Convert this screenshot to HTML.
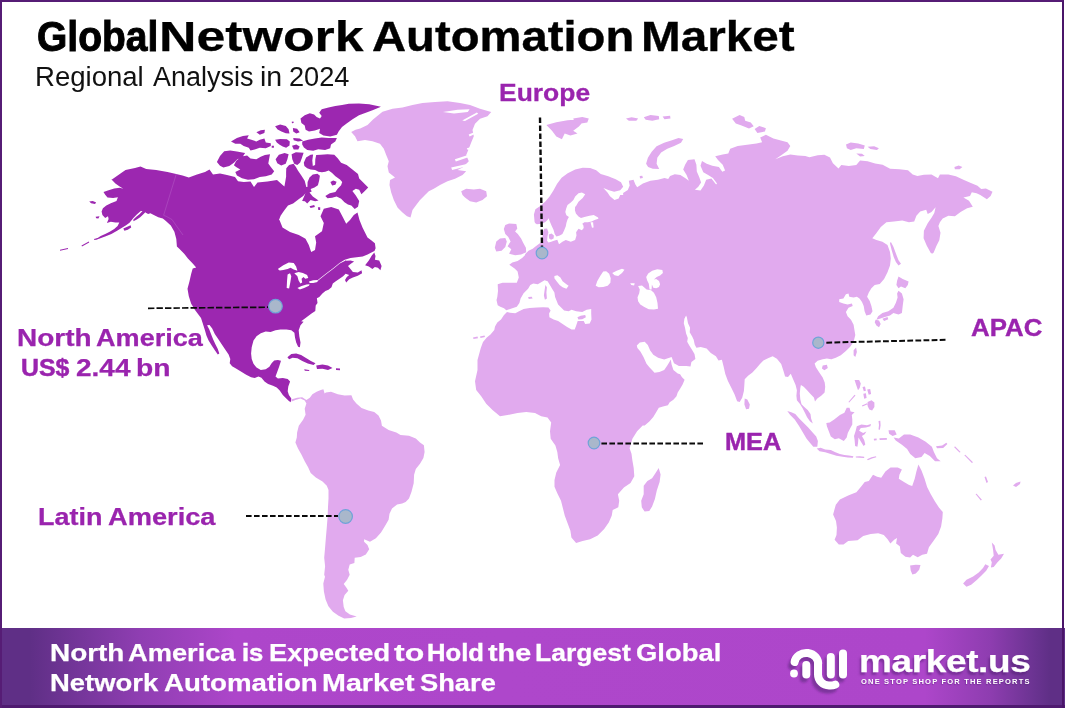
<!DOCTYPE html>
<html><head><meta charset="utf-8">
<style>
html,body{margin:0;padding:0;}
body{width:1065px;height:708px;position:relative;overflow:hidden;background:#fff;font-family:"Liberation Sans",sans-serif;}
.frame{position:absolute;left:0;top:0;width:1064px;height:708px;box-sizing:border-box;border-left:2px solid #561c75;border-top:2px solid #561c75;border-right:2px solid #4a1569;}
.t{position:absolute;white-space:nowrap;line-height:1;transform-origin:0 0;}
.footer{position:absolute;left:0;top:628px;width:1065px;height:80px;background:linear-gradient(90deg,#5f2f86 0px,#5f2f86 30px,#8f3eb2 140px,#ad46ca 235px,#ae47cb 500px,#ad46ca 925px,#8e3db0 990px,#6a3391 1035px,#5f2f86 1050px,#5f2f86 1065px);border-bottom:3px solid #4f1a70;box-sizing:border-box;}
svg{position:absolute;left:0;top:0;}
</style></head><body>
<svg width="1065" height="708" viewBox="0 0 1065 708" shape-rendering="geometricPrecision">
<path fill="#9c27b0" d="M111.2 180.0 L115.5 177.0 L121.2 173.0 L125.5 170.0 L135.0 168.0 L140.5 166.5 L146.2 169.0 L156.2 170.0 L167.5 172.0 L176.2 174.0 L182.5 175.5 L188.8 177.5 L197.0 174.5 L205.0 172.0 L209.5 169.5 L213.0 174.5 L220.0 173.5 L227.0 175.0 L235.0 177.0 L238.0 181.2 L243.8 182.0 L250.5 181.5 L254.0 187.0 L257.5 182.5 L267.5 181.5 L277.0 180.0 L283.2 185.5 L284.4 186.4 L285.2 181.9 L286.1 176.8 L286.1 172.3 L286.3 168.3 L289.1 164.9 L293.6 163.8 L295.9 167.0 L297.9 170.6 L301.0 175.1 L304.7 180.8 L306.3 187.0 L307.4 187.0 L307.6 181.9 L309.5 177.4 L312.8 174.6 L317.4 173.8 L319.9 175.7 L319.1 180.8 L317.9 185.3 L314.5 187.5 L310.6 188.9 L311.7 191.5 L309.5 192.6 L305.5 193.2 L303.2 196.0 L299.3 198.8 L293.1 203.4 L288.0 205.6 L284.0 210.7 L280.6 215.8 L278.9 220.3 L279.5 220.0 L282.5 227.5 L290.0 232.0 L298.8 235.0 L305.5 238.8 L308.8 245.0 L311.2 252.0 L315.0 250.0 L316.2 242.5 L315.0 236.2 L322.0 231.2 L323.8 223.0 L320.5 216.2 L323.8 208.8 L331.2 207.0 L338.8 209.5 L343.0 217.5 L346.2 223.8 L350.0 220.0 L353.8 215.0 L357.5 212.5 L359.5 220.0 L362.5 227.5 L367.5 237.5 L371.2 240.3 L374.9 243.3 L375.6 248.2 L374.5 250.9 L372.4 252.1 L367.6 254.5 L362.7 256.5 L356.6 257.2 L350.5 258.0 L345.6 259.4 L346.2 260.8 L350.5 260.4 L354.1 261.6 L350.5 264.1 L348.0 265.9 L350.5 269.0 L352.9 272.0 L357.8 272.6 L361.5 270.2 L362.1 273.2 L357.8 275.7 L352.9 277.5 L349.2 279.3 L346.2 282.4 L345.0 279.9 L346.8 276.9 L349.2 275.1 L345.6 273.8 L343.1 276.3 L339.5 278.7 L335.8 281.2 L332.8 283.6 L331.5 287.3 L328.5 289.7 L325.4 290.9 L322.4 293.4 L319.3 297.0 L316.9 298.3 L317.5 303.1 L315.7 305.6 L315.3 311.1 L311.2 313.8 L306.2 317.5 L301.2 321.2 L303.6 321.7 L300.5 325.3 L298.7 330.2 L299.3 336.3 L300.5 342.4 L299.9 347.3 L298.1 346.7 L296.2 342.4 L295.0 337.5 L294.4 332.7 L291.3 330.2 L286.5 329.6 L280.4 329.6 L275.5 330.2 L270.6 332.0 L265.7 331.4 L260.8 333.3 L256.5 336.3 L253.5 340.6 L251.7 347.3 L251.1 353.4 L251.7 358.9 L253.5 363.8 L256.5 367.5 L260.8 369.9 L265.7 369.3 L269.4 366.8 L271.6 363.2 L274.2 360.5 L277.9 360.1 L281.0 360.7 L279.1 366.8 L277.3 371.7 L275.5 376.6 L277.9 378.4 L282.8 378.1 L287.7 379.1 L290.1 381.5 L288.3 386.4 L287.7 391.3 L288.9 394.9 L291.3 398.6 L290.7 402.2 L288.9 401.0 L285.8 398.0 L282.8 394.9 L279.7 390.6 L276.7 387.6 L273.0 385.8 L268.1 383.9 L264.5 381.5 L261.4 377.8 L258.4 376.6 L254.7 378.1 L251.1 377.2 L246.2 374.8 L241.3 371.7 L236.4 368.7 L232.1 366.2 L229.7 363.2 L230.3 358.9 L228.6 354.4 L225.2 349.5 L221.5 344.0 L218.2 339.1 L214.8 333.9 L212.2 328.4 L209.5 325.1 L207.1 325.3 L209.3 329.6 L211.0 333.9 L213.2 339.4 L215.4 344.3 L217.8 349.1 L219.3 353.4 L217.8 354.4 L215.0 350.4 L211.7 345.5 L208.6 340.6 L206.5 335.7 L204.7 329.6 L202.8 323.5 L201.0 318.0 L195.0 310.0 L191.2 303.8 L188.8 296.2 L187.5 288.8 L189.5 281.2 L191.2 273.8 L192.7 268.4 L196.2 267.5 L192.7 263.5 L187.9 258.6 L184.2 253.7 L179.3 248.8 L176.9 246.4 L176.3 239.1 L174.4 231.7 L170.8 225.6 L165.6 220.7 L162.8 218.4 L158.3 217.3 L153.8 215.0 L150.4 213.3 L148.1 213.9 L145.9 212.8 L145.3 212.2 L143.6 213.9 L140.2 217.3 L136.8 219.5 L133.4 221.2 L133.4 219.5 L136.3 216.7 L139.7 213.9 L142.5 211.1 L140.8 211.1 L136.8 214.5 L133.4 217.9 L129.5 222.7 L126.1 225.2 L121.6 228.0 L117.1 230.8 L111.4 234.0 L105.8 236.3 L99.0 238.8 L94.5 240.1 L98.4 237.4 L100.7 235.9 L105.2 234.0 L109.7 231.8 L114.2 228.9 L117.6 226.1 L119.3 222.4 L115.4 222.4 L110.8 221.8 L106.9 222.9 L108.6 219.0 L108.0 216.2 L105.2 217.9 L102.4 215.0 L101.6 211.6 L102.9 208.2 L106.3 205.4 L110.8 203.2 L116.5 200.9 L117.9 197.2 L113.1 198.1 L107.5 197.5 L105.2 194.7 L103.5 191.9 L108.6 190.2 L114.2 188.5 L119.9 187.7 L123.3 188.8 L119.3 186.2 L115.4 183.4 L112.0 180.0Z M381.0 106.8 L369.2 104.2 L359.0 103.4 L348.8 103.7 L342.0 105.1 L335.3 105.9 L328.5 107.6 L321.7 109.3 L319.2 112.7 L321.7 116.1 L320.0 118.6 L316.6 116.9 L314.1 114.4 L309.8 113.2 L304.7 115.3 L300.5 118.6 L301.4 122.9 L304.7 125.4 L305.6 129.7 L309.0 131.4 L314.9 130.5 L320.0 128.8 L319.2 133.1 L323.4 135.6 L330.2 136.4 L336.9 134.7 L338.6 131.4 L342.0 127.1 L346.3 123.7 L352.2 119.5 L359.0 115.3 L365.8 112.7 L372.5 110.2Z M275.1 126.3 L280.2 124.6 L285.8 125.9 L288.6 129.2 L289.5 133.6 L285.8 133.2 L281.4 131.5 L277.6 129.5Z M292.9 128.0 L297.1 128.8 L299.7 132.2 L296.3 133.6 L293.2 131.4Z M256.4 132.2 L260.7 130.2 L264.9 129.7 L264.4 133.1 L259.8 134.7Z M291.7 121.7 L293.4 121.4 L293.7 122.9 L292.0 123.2Z M231.0 141.5 L236.9 138.1 L242.9 135.9 L248.8 135.3 L247.1 138.6 L251.4 139.8 L256.4 141.5 L259.8 139.8 L264.4 138.6 L265.8 142.4 L270.8 143.2 L270.8 146.1 L265.8 148.3 L259.8 147.8 L254.7 149.5 L250.5 150.5 L248.8 147.8 L243.7 146.1 L240.3 143.7 L235.3 143.7Z M275.1 139.8 L280.2 139.0 L286.9 139.3 L289.8 141.5 L289.5 145.4 L286.1 147.8 L282.7 146.6 L279.3 144.4 L276.8 142.4Z M271.7 145.8 L273.9 145.8 L273.9 147.8 L271.7 147.8Z M293.2 138.1 L299.7 138.6 L303.1 140.7 L298.0 141.5 L293.7 140.3Z M292.0 145.8 L296.3 144.4 L299.7 146.6 L298.3 149.5 L293.7 149.5Z M302.2 141.5 L308.1 139.8 L314.9 138.6 L321.7 137.6 L328.5 138.1 L336.9 138.1 L335.3 141.5 L331.0 144.4 L330.2 148.3 L325.1 150.0 L318.3 149.2 L313.2 150.8 L307.3 150.0 L303.9 147.5 L302.2 144.4Z M216.9 162.0 L220.0 155.9 L224.2 151.2 L230.2 150.5 L236.9 151.4 L245.1 152.9 L242.4 157.3 L237.3 159.3 L233.9 162.7 L229.3 166.1 L223.4 167.5 L220.0 165.8Z M233.9 165.3 L236.1 161.0 L239.0 158.5 L242.9 156.3 L247.1 155.6 L250.5 158.5 L256.4 159.3 L260.7 156.8 L264.9 155.1 L270.0 154.2 L269.2 158.5 L268.3 163.6 L270.8 166.9 L274.2 171.2 L271.7 174.6 L265.8 176.3 L259.8 177.1 L253.9 179.3 L248.0 179.7 L242.0 178.3 L236.9 175.4 L235.3 172.0 L240.3 169.5 L236.1 166.9Z M275.6 159.3 L278.9 154.8 L284.6 153.1 L288.6 154.2 L287.4 159.3 L285.7 163.8 L281.2 165.5 L277.3 163.3Z M291.6 154.2 L295.9 152.3 L303.6 152.7 L301.8 158.2 L300.2 162.5 L297.3 164.9 L294.2 163.8 L292.3 159.3Z M303.8 162.7 L306.1 157.6 L310.6 154.8 L313.1 154.6 L312.3 160.4 L312.8 166.1 L315.1 164.9 L315.3 159.3 L316.2 155.0 L320.8 154.8 L327.5 154.2 L334.3 154.8 L337.7 158.2 L341.1 162.7 L346.7 164.9 L352.4 169.5 L358.0 174.0 L359.2 178.5 L363.7 183.0 L368.2 187.5 L364.8 190.9 L361.4 194.3 L359.2 189.8 L355.8 188.7 L352.4 190.9 L355.8 195.5 L359.2 201.1 L358.0 206.8 L354.7 209.0 L351.3 205.6 L347.9 204.5 L344.5 202.2 L341.1 198.8 L336.6 196.6 L332.1 197.7 L327.5 198.3 L325.3 196.0 L329.8 193.2 L335.4 192.1 L337.7 188.7 L341.1 185.3 L342.2 181.9 L340.0 179.6 L335.4 176.2 L332.1 172.9 L328.7 170.6 L325.3 171.7 L321.9 172.3 L318.5 171.7 L315.1 170.0 L310.6 169.5 L307.2 168.3 L304.4 166.1Z M330.4 181.9 L333.2 180.5 L336.6 181.7 L335.4 184.7 L332.1 185.5Z M302.1 201.1 L305.5 193.2 L309.5 192.6 L312.8 196.6 L318.5 200.5 L315.1 201.3 L310.6 200.0 L307.2 203.4 L304.9 201.3Z M309.5 206.2 L314.2 205.1 L314.9 207.0 L310.6 208.1Z M317.9 207.3 L320.2 207.3 L320.2 210.1 L318.3 210.1Z"/>
<path fill="#ffffff" d="M277.8 269.0 L283.3 265.3 L288.8 262.6 L293.7 263.1 L296.1 266.5 L297.4 270.8 L293.7 269.6 L290.6 267.7 L287.6 269.0 L283.3 269.9 L279.7 270.4Z M287.6 274.5 L290.0 273.2 L291.3 276.3 L290.3 282.4 L289.1 288.5 L286.7 287.9 L287.0 281.2Z M294.3 273.2 L298.6 272.0 L302.9 272.9 L307.1 275.1 L308.3 278.1 L305.3 278.7 L303.5 276.9 L301.6 278.7 L302.2 282.4 L300.4 283.6 L298.6 280.6 L297.4 276.3Z M297.4 287.9 L301.6 286.1 L306.5 284.6 L309.6 284.2 L309.0 285.8 L304.1 287.9 L299.8 289.5Z M309.0 281.4 L313.2 280.2 L317.7 279.9 L317.5 281.9 L313.2 283.0 L309.6 283.0Z M317.5 280.3 L326.1 273.5 L333.4 268.0 L339.5 263.1 L345.6 259.2 L345.8 260.4 L339.8 263.6 L333.7 268.5 L326.4 274.0 L317.9 280.8Z"/>
<path fill="#9c27b0" d="M365.1 265.3 L368.8 260.4 L371.8 255.5 L374.3 252.5 L375.5 256.1 L374.9 259.8 L379.2 260.4 L381.6 265.9 L380.4 270.2 L377.9 267.7 L374.9 267.1 L372.4 269.0 L368.8 266.5Z M287.4 357.3 L291.3 354.1 L296.2 353.4 L301.1 355.0 L306.0 358.0 L310.9 361.0 L315.5 363.2 L313.6 365.1 L307.8 363.5 L302.3 360.9 L297.4 358.2 L292.6 357.8 L289.1 359.3Z M304.2 369.3 L309.0 369.9 L309.4 371.1 L304.8 370.7Z M316.2 365.5 L322.5 364.5 L328.0 365.5 L332.5 368.0 L328.0 370.0 L322.5 368.8 L317.0 369.0Z M336.0 368.2 L340.0 368.5 L340.0 370.2 L336.0 370.0Z M123.3 228.6 L126.7 226.9 L130.6 225.2 L131.2 227.5 L127.8 229.7 L124.4 230.8Z M95.6 216.7 L99.5 216.2 L98.4 218.4 L96.2 218.2Z M89.2 201.5 L92.8 200.9 L96.2 202.6 L95.0 204.0 L91.1 203.2Z M93.9 239.0 L97.9 237.9 L98.2 239.0 L94.5 240.1Z M81.5 245.5 L88.8 241.6 L89.2 242.5 L82.0 246.4Z M60.0 249.8 L67.9 248.1 L68.1 248.9 L60.0 250.7Z"/>
<path fill="#e1aaee" d="M291.2 399.4 L297.1 397.7 L302.2 397.2 L306.4 399.9 L309.8 397.7 L312.4 394.3 L316.6 391.8 L320.8 390.1 L323.4 389.2 L324.6 393.5 L325.9 392.6 L331.0 391.8 L337.8 394.3 L344.6 395.5 L351.4 395.2 L353.1 399.4 L356.4 403.6 L361.5 407.9 L368.3 410.4 L374.2 412.1 L378.5 415.5 L381.0 420.6 L381.9 425.7 L388.6 429.9 L396.3 432.5 L400.5 435.0 L409.0 435.8 L415.8 438.4 L420.0 442.6 L423.9 445.2 L424.6 451.9 L423.4 457.9 L420.0 463.8 L415.8 468.9 L414.1 474.8 L413.7 483.3 L411.5 491.8 L409.0 498.6 L405.6 501.9 L402.2 503.6 L397.1 504.4 L392.0 508.6 L389.5 513.7 L388.6 519.7 L385.3 525.6 L381.0 532.4 L375.9 538.3 L370.0 541.7 L364.1 539.2 L364.1 541.7 L367.5 545.1 L369.2 549.3 L365.8 554.4 L360.7 556.9 L354.7 557.8 L354.4 562.9 L349.7 564.6 L348.3 569.7 L349.7 574.7 L347.1 579.8 L343.7 584.1 L346.3 587.5 L348.3 590.8 L344.6 595.1 L342.9 600.2 L343.7 606.9 L345.4 611.2 L349.9 614.6 L356.7 616.6 L351.0 618.0 L344.2 618.6 L338.6 615.8 L332.9 611.8 L328.4 606.2 L325.6 599.4 L323.9 591.5 L323.3 583.6 L325.0 576.8 L324.2 574.7 L325.1 566.3 L324.2 557.8 L325.1 547.6 L325.9 537.5 L326.8 527.3 L327.6 517.1 L328.0 506.9 L328.5 498.5 L328.5 490.0 L326.8 485.8 L322.5 481.6 L315.8 477.4 L310.7 473.1 L308.1 467.2 L304.7 461.3 L301.4 454.5 L298.0 448.6 L295.4 442.6 L296.8 437.5 L297.1 432.5 L298.8 425.7 L303.1 419.7 L305.6 414.7 L304.7 408.7 L306.4 403.6 L304.7 400.6 L300.5 398.6 L295.4 399.9 L291.7 401.6Z M351.2 132.0 L355.5 129.8 L360.2 128.5 L367.5 125.0 L373.0 119.5 L382.5 111.8 L392.5 108.8 L402.5 107.5 L412.5 105.0 L422.5 103.0 L435.0 102.0 L447.5 101.2 L460.0 103.0 L470.0 105.0 L480.0 108.8 L491.2 112.0 L487.5 116.2 L480.0 118.8 L475.0 123.8 L472.5 130.0 L473.8 136.2 L471.2 142.5 L468.8 148.8 L466.2 155.0 L468.8 161.2 L462.5 167.5 L457.5 170.0 L466.2 171.2 L462.5 175.0 L455.0 178.8 L447.5 181.2 L440.0 185.0 L433.8 188.8 L428.8 191.2 L425.0 195.0 L420.0 200.0 L416.2 205.0 L412.5 210.0 L410.5 217.5 L407.0 216.2 L402.5 212.5 L397.5 207.5 L393.8 200.0 L391.2 192.5 L389.5 185.0 L390.0 180.0 L395.0 177.5 L388.8 172.5 L387.5 166.2 L388.8 161.2 L386.2 155.0 L383.8 148.8 L380.0 143.8 L372.5 141.2 L365.0 140.0 L357.5 141.2 L355.0 136.2Z"/>
<path fill="#ffffff" d="M442.9 111.9 L457.6 109.7 L469.6 109.3 L467.8 112.1 L454.0 113.4Z M462.2 120.4 L476.9 112.5 L478.2 113.8 L465.0 121.1Z M468.7 134.5 L479.7 129.9 L480.1 131.4 L469.6 136.4Z M466.8 148.3 L480.6 144.6 L480.6 146.5 L467.8 150.1Z M454.9 159.3 L468.7 154.7 L469.0 156.9 L455.8 161.5Z M451.2 167.6 L466.8 163.9 L466.8 166.3 L452.1 170.0Z"/>
<path fill="#e1aaee" d="M461.2 191.2 L466.2 188.8 L473.8 189.5 L480.0 188.8 L486.2 191.2 L487.0 196.2 L482.5 200.0 L476.2 202.5 L470.0 201.2 L465.0 197.5 L462.5 195.0Z M507.0 312.1 L504.0 315.1 L501.0 319.6 L497.3 322.6 L495.0 326.4 L494.3 330.1 L490.5 334.6 L486.8 337.6 L483.0 342.1 L480.8 348.1 L477.5 360.0 L477.5 370.0 L475.0 381.2 L476.2 390.0 L481.2 396.2 L486.2 403.8 L492.5 410.0 L500.0 416.2 L507.5 415.0 L517.5 413.0 L526.2 412.0 L535.0 413.0 L541.2 416.2 L547.5 417.5 L551.2 422.5 L550.0 431.2 L550.7 438.8 L555.4 445.4 L557.3 451.9 L558.2 458.5 L560.1 465.1 L556.3 472.6 L554.5 480.1 L554.5 486.7 L557.3 493.2 L561.0 500.8 L562.9 508.3 L564.8 515.8 L567.6 523.3 L570.4 530.8 L571.4 537.4 L576.1 543.0 L582.6 541.1 L590.1 539.2 L597.7 535.5 L604.2 528.9 L608.9 522.3 L611.7 515.8 L612.7 510.1 L618.3 507.3 L619.2 500.8 L617.9 494.2 L623.9 487.6 L630.5 482.9 L634.3 476.3 L633.7 467.9 L632.4 460.4 L631.5 453.8 L629.6 448.2 L632.4 438.8 L637.1 431.3 L642.7 425.6 L644.7 425.5 L649.6 421.2 L653.3 416.9 L656.3 412.0 L658.8 407.8 L663.0 406.5 L667.9 405.3 L669.7 402.3 L673.4 399.8 L676.5 396.2 L677.7 392.5 L680.1 388.8 L682.6 384.6 L684.6 379.7 L682.0 377.2 L680.1 374.2 L677.7 373.6 L673.4 369.9 L671.6 364.4 L670.8 359.5 L669.7 361.4 L667.3 365.6 L664.2 369.9 L659.4 372.0 L654.5 372.7 L652.0 369.9 L649.6 367.5 L646.5 363.8 L643.5 357.1 L640.4 351.6 L637.4 347.9 L636.8 345.5 L639.8 342.4 L644.7 341.8 L647.8 344.9 L650.2 350.4 L653.3 354.7 L658.1 357.7 L664.2 359.5 L667.9 358.3 L671.6 357.1 L674.0 363.2 L678.9 365.9 L686.2 366.0 L690.5 366.6 L691.4 362.0 L695.4 358.9 L694.5 354.0 L691.7 349.2 L689.3 345.5 L687.2 341.8 L687.8 338.0 L686.1 333.4 L685.0 327.8 L683.8 323.3 L684.4 318.8 L686.1 315.4 L686.9 317.6 L688.0 323.3 L690.1 327.8 L689.7 332.3 L692.3 336.8 L693.7 339.7 L694.7 344.4 L696.4 347.8 L700.7 346.9 L706.6 348.6 L710.8 352.9 L715.9 356.3 L718.5 360.5 L721.9 359.7 L723.6 366.4 L725.3 374.1 L727.8 380.8 L731.2 387.6 L734.6 394.4 L737.1 401.2 L739.7 402.0 L742.2 397.8 L743.9 391.0 L744.4 384.2 L744.7 379.2 L748.1 375.8 L752.4 372.4 L756.6 368.1 L760.0 363.9 L763.4 360.5 L768.5 358.0 L772.7 356.3 L776.9 358.8 L781.2 363.9 L783.4 370.7 L785.1 376.6 L788.0 377.1 L790.8 373.7 L793.1 379.2 L795.6 385.1 L796.9 390.2 L796.4 395.8 L796.9 400.3 L799.8 403.7 L802.6 408.2 L804.9 412.8 L807.1 417.3 L809.9 421.2 L812.8 423.5 L811.1 418.4 L810.5 413.9 L807.7 409.9 L804.3 407.1 L801.5 404.3 L800.3 399.2 L799.8 393.6 L800.3 387.9 L800.9 385.1 L803.7 386.8 L807.1 390.2 L810.5 394.1 L813.9 397.5 L815.0 401.5 L817.3 398.6 L821.2 395.8 L824.6 392.4 L825.2 386.8 L824.7 382.5 L822.7 377.5 L819.3 372.4 L815.9 367.3 L814.6 363.4 L817.6 360.8 L822.7 359.2 L826.9 358.5 L831.2 359.2 L830.7 359.5 L835.8 357.8 L840.8 355.3 L845.9 351.0 L850.2 346.8 L853.6 341.7 L855.3 334.9 L854.4 329.8 L853.6 324.7 L851.0 319.7 L847.6 316.3 L845.9 312.0 L848.5 307.8 L852.7 306.1 L851.9 303.6 L847.6 304.4 L843.4 303.6 L839.2 301.9 L839.2 299.3 L843.4 298.5 L845.9 294.2 L848.5 293.4 L849.3 296.8 L853.6 297.6 L856.9 296.8 L859.5 298.5 L862.0 301.9 L863.7 306.1 L864.6 311.2 L866.3 315.4 L870.5 314.6 L872.5 311.2 L871.4 306.1 L869.7 301.0 L867.1 296.8 L868.8 292.5 L871.4 288.3 L874.7 284.9 L879.8 284.1 L884.1 279.0 L887.5 272.2 L890.0 265.4 L890.8 258.6 L890.0 251.9 L887.5 245.1 L882.4 241.7 L876.4 240.0 L872.3 238.3 L876.1 233.6 L880.8 227.0 L886.4 222.3 L893.9 221.4 L902.3 220.5 L908.9 222.3 L914.2 221.4 L916.4 215.8 L920.2 211.6 L926.2 209.8 L927.7 213.9 L931.5 212.0 L935.6 207.3 L934.3 213.0 L931.5 217.7 L927.7 223.3 L923.9 230.8 L923.6 238.3 L926.8 245.8 L930.5 252.4 L931.0 253.2 L932.7 253.6 L933.7 252.4 L936.5 245.8 L939.3 240.2 L940.5 232.7 L938.4 226.1 L939.9 222.3 L942.7 218.6 L948.4 215.8 L954.9 216.2 L960.6 212.0 L967.1 208.3 L972.8 206.8 L969.0 200.8 L963.4 197.4 L970.0 196.1 L971.8 192.3 L976.5 193.2 L980.3 195.1 L986.9 199.2 L990.6 196.1 L992.5 191.7 L985.9 188.5 L981.2 189.1 L977.5 185.7 L970.9 182.9 L963.4 179.7 L955.9 176.3 L948.4 174.5 L939.9 174.5 L938.0 178.2 L931.5 174.5 L923.9 174.8 L917.4 176.0 L912.7 174.5 L908.0 170.3 L899.5 169.2 L890.1 168.8 L882.6 164.7 L875.1 163.6 L867.6 161.3 L860.1 160.4 L856.3 165.1 L848.8 166.0 L841.3 165.1 L838.5 168.5 L832.9 163.2 L830.0 157.6 L824.4 154.7 L817.8 155.3 L809.4 157.2 L805.3 156.0 L797.8 155.4 L790.3 154.5 L782.8 156.3 L775.3 159.2 L780.9 155.4 L787.5 150.7 L790.3 146.0 L787.5 142.3 L780.9 140.4 L773.4 138.5 L765.9 134.7 L760.2 137.6 L762.1 142.3 L756.5 143.6 L747.1 144.7 L737.7 146.0 L730.2 148.8 L728.3 153.5 L722.7 154.5 L715.2 156.3 L718.0 160.1 L722.7 164.8 L725.1 170.4 L722.3 171.7 L718.9 167.0 L712.3 165.7 L706.7 163.8 L702.0 161.0 L700.5 165.7 L703.3 172.3 L707.7 174.7 L712.9 177.9 L717.0 183.6 L716.1 184.5 L711.4 178.5 L706.2 179.8 L703.9 185.4 L700.5 190.5 L694.9 189.8 L698.3 186.8 L701.1 182.6 L699.2 177.0 L696.8 171.4 L696.4 164.8 L694.5 159.2 L687.9 160.1 L685.1 164.8 L683.2 169.5 L686.6 175.1 L688.9 180.8 L685.1 177.9 L680.4 175.1 L674.8 174.2 L670.1 176.1 L668.2 178.9 L664.5 177.9 L657.9 179.8 L650.4 180.8 L642.9 183.6 L637.2 187.3 L635.4 184.5 L633.5 179.8 L628.8 180.8 L629.7 185.4 L627.8 190.1 L623.1 193.0 L623.2 195.1 L620.2 195.1 L618.7 198.4 L614.5 199.9 L610.0 196.3 L607.5 192.4 L603.4 187.9 L609.0 190.3 L614.2 191.8 L620.2 190.3 L623.2 186.8 L621.0 182.3 L615.7 179.3 L608.2 176.3 L600.7 174.0 L596.2 170.3 L590.2 168.0 L582.7 167.7 L575.2 169.5 L567.7 173.3 L561.6 177.8 L557.1 183.8 L553.4 190.6 L549.6 196.6 L545.1 201.8 L539.9 206.3 L535.4 209.3 L533.9 214.6 L534.6 222.1 L535.3 223.3 L536.9 224.2 L542.0 223.7 L545.4 222.0 L547.5 219.9 L548.6 218.2 L549.7 221.2 L551.5 225.4 L553.5 229.7 L554.7 233.9 L556.4 236.6 L559.8 235.6 L562.4 233.9 L564.1 230.5 L565.8 226.3 L566.4 222.9 L567.5 219.5 L568.9 216.9 L566.4 215.3 L565.3 211.9 L566.2 208.5 L567.5 205.1 L570.8 202.5 L573.4 200.0 L575.2 196.6 L578.5 193.3 L581.9 192.5 L585.2 194.3 L582.7 198.1 L578.5 201.8 L575.9 206.3 L575.1 206.8 L574.9 210.2 L575.9 213.6 L578.5 216.5 L581.0 218.0 L584.4 216.9 L589.5 215.7 L593.7 215.0 L598.1 217.6 L598.4 218.8 L594.6 220.1 L591.6 221.6 L587.8 222.2 L584.4 222.2 L582.3 223.7 L583.4 225.4 L583.7 228.0 L581.9 230.3 L578.5 228.8 L576.1 232.2 L576.5 235.6 L575.1 240.0 L570.8 241.7 L565.8 240.0 L562.4 241.7 L559.0 244.2 L557.3 239.8 L553.9 240.7 L550.5 241.9 L548.4 242.4 L547.1 240.7 L547.5 236.4 L548.4 232.2 L547.1 228.4 L544.2 228.8 L542.9 232.2 L542.5 236.4 L542.9 240.7 L539.5 243.4 L536.1 245.9 L532.7 248.7 L528.5 250.8 L525.1 254.2 L525.1 255.0 L522.1 258.0 L517.6 261.0 L512.3 262.5 L509.3 264.8 L514.6 268.5 L517.6 271.5 L518.8 277.5 L516.8 282.8 L510.0 282.8 L502.5 282.8 L497.7 284.3 L498.0 291.1 L497.3 297.1 L496.5 300.1 L497.7 305.3 L500.3 306.8 L504.0 308.3 L506.3 310.3 L512.3 308.3 L516.8 306.8 L519.4 303.1 L520.6 298.6 L523.6 293.3 L528.1 288.8 L530.3 285.0 L533.3 283.5 L537.8 284.3 L541.6 282.0 L544.6 280.2 L547.6 281.3 L549.9 285.0 L552.1 288.8 L554.4 292.6 L555.1 297.1 L556.6 300.8 L558.1 304.6 L561.1 307.6 L564.1 310.6 L568.6 311.3 L571.6 309.8 L576.2 311.3 L582.2 312.1 L586.7 309.8 L591.2 309.1 L591.2 313.6 L591.5 319.6 L589.7 323.4 L585.2 324.1 L583.7 321.1 L577.7 321.1 L576.2 325.6 L574.7 329.4 L571.6 329.4 L567.1 327.1 L562.6 324.1 L558.1 321.1 L553.6 319.6 L549.4 317.3 L549.1 313.6 L550.6 310.6 L548.4 307.6 L543.1 307.3 L537.1 307.6 L529.6 307.9 L523.6 309.1 L519.1 311.3 L515.3 313.3 L510.0 312.8Z"/>
<path fill="#ffffff" d="M554.4 276.0 L557.4 275.3 L560.4 277.5 L562.6 281.3 L566.4 284.3 L568.6 285.8 L566.4 288.8 L562.6 287.3 L559.6 285.0 L556.6 281.3 L554.4 278.3Z M595.7 285.8 L597.2 281.3 L600.2 276.0 L603.2 271.5 L606.2 271.2 L609.2 273.8 L610.7 278.3 L610.4 282.8 L607.7 285.8 L603.2 286.9 L598.7 287.3Z M612.2 273.0 L616.7 270.8 L622.0 268.8 L624.5 269.7 L622.0 273.0 L618.2 276.0 L614.5 275.3Z M630.2 283.2 L634.7 283.2 L634.1 285.4 L631.3 285.1Z M638.1 286.0 L642.0 285.4 L646.6 289.6 L651.1 290.3 L653.9 292.8 L656.2 297.3 L657.5 302.9 L658.0 308.8 L653.9 309.5 L648.8 309.2 L644.3 306.9 L640.3 304.6 L638.1 301.2 L637.5 297.3 L639.2 293.3 L639.8 289.4Z M646.2 276.9 L648.2 273.6 L652.2 270.7 L657.3 269.3 L662.4 269.9 L662.9 273.0 L660.1 275.6 L656.7 276.9 L653.9 279.4 L656.2 279.0 L659.0 280.9 L660.1 284.3 L659.0 287.1 L656.2 288.2 L653.3 287.7 L651.9 284.6 L651.6 289.6 L649.6 289.6 L648.8 283.7 L647.1 280.3Z M590.5 222.2 L593.1 222.2 L593.6 227.5 L592.0 227.8Z"/>
<path fill="#e1aaee" d="M548.8 234.6 L551.5 233.6 L553.9 235.6 L553.6 238.6 L551.0 239.8 L549.0 238.3Z M473.0 337.5 L477.5 336.5 L478.0 338.2 L473.5 339.0Z M480.0 336.5 L484.5 335.5 L485.0 337.0 L480.5 338.0Z M545.4 285.0 L546.9 287.3 L546.4 292.6 L546.9 298.6 L544.9 299.8 L543.9 295.6 L544.6 290.3Z M577.4 317.3 L580.7 315.8 L585.2 315.1 L585.9 317.3 L582.2 319.3 L578.4 319.6Z M528.1 297.1 L531.8 296.8 L532.6 298.6 L528.8 298.9Z M505.3 225.1 L509.1 223.6 L516.3 224.1 L517.3 228.4 L515.1 231.4 L517.8 234.1 L521.1 238.6 L523.3 243.1 L525.9 247.7 L526.2 252.2 L521.1 254.4 L515.1 255.2 L509.1 253.7 L511.3 249.2 L507.6 246.2 L510.6 241.6 L508.3 237.1 L505.3 234.1 L503.8 228.9Z M496.3 241.6 L500.0 238.6 L505.3 237.9 L506.8 241.6 L505.3 246.9 L501.6 250.7 L496.3 251.4 L494.8 247.7Z M546.4 125.1 L556.3 122.3 L567.6 120.3 L577.5 119.4 L584.0 120.8 L578.9 126.5 L573.2 130.7 L577.5 133.6 L570.4 135.5 L564.7 133.6 L561.9 139.2 L556.3 136.4 L552.0 130.7Z M573.2 118.6 L582.3 116.9 L588.8 118.6 L587.3 122.5 L579.4 123.7 L574.6 122.0Z M646.1 163.8 L647.9 157.8 L651.7 151.8 L656.6 146.2 L664.1 142.8 L672.0 140.2 L678.5 137.9 L683.2 139.1 L681.0 142.8 L674.2 146.0 L667.3 148.8 L661.1 152.6 L657.3 157.8 L656.6 163.8 L659.2 169.1 L652.8 168.7 L648.1 167.0Z M626.0 118.4 L631.6 117.3 L638.2 118.4 L636.3 120.7 L628.8 120.7Z M643.8 117.3 L650.4 115.0 L658.8 116.0 L659.2 119.2 L652.3 120.7 L645.7 119.7Z M662.6 116.5 L670.1 115.8 L670.5 118.4 L664.5 119.2Z M732.1 118.8 L739.6 115.0 L744.3 116.9 L745.2 120.7 L750.8 122.5 L753.7 126.3 L749.0 128.5 L741.5 125.4 L735.8 123.5Z M754.6 129.1 L759.3 125.9 L765.9 128.2 L764.9 131.5 L757.4 132.9Z M639.7 176.1 L642.3 175.7 L642.9 177.9 L640.0 178.5Z M846.0 144.4 L850.7 142.5 L858.2 143.5 L864.8 145.4 L863.8 149.1 L856.3 148.2 L850.7 150.0 L846.9 148.2Z M867.6 146.7 L874.2 146.3 L878.9 148.2 L877.0 150.0 L870.4 149.1Z M856.3 153.4 L862.0 153.8 L864.8 156.1 L860.1 156.6Z M954.4 166.9 L958.7 165.4 L962.4 166.9 L959.6 169.2 L954.9 169.2Z M890.8 241.7 L893.4 246.8 L895.9 253.6 L898.5 260.3 L901.0 263.7 L898.5 265.4 L895.9 262.0 L893.7 256.9 L891.7 250.2 L890.0 243.4Z M898.5 276.4 L902.7 279.0 L908.6 281.5 L907.8 284.9 L905.3 288.3 L901.0 286.6 L898.5 288.3 L896.4 284.9 L897.1 280.7Z M898.5 290.8 L901.9 293.4 L903.6 299.3 L902.7 306.1 L901.9 312.9 L898.5 314.6 L893.4 312.9 L890.0 315.4 L884.9 317.1 L879.8 318.8 L876.4 319.7 L878.1 316.3 L882.4 312.9 L888.3 311.2 L893.4 307.8 L895.9 302.7 L897.6 297.6 L897.1 293.4Z M875.6 319.7 L879.0 320.5 L880.7 323.9 L879.0 327.3 L876.4 325.6 L874.7 322.2Z M882.4 318.8 L887.5 317.1 L888.3 319.3 L884.1 321.0Z M853.6 350.2 L856.1 347.6 L856.9 351.9 L855.3 356.9 L853.6 355.3Z M822.7 365.6 L826.9 364.7 L827.8 368.1 L824.4 370.3 L821.9 368.6Z M744.7 398.6 L747.3 399.5 L749.8 404.6 L749.0 408.8 L746.1 409.3 L744.4 404.6Z M658.7 467.9 L660.6 474.5 L659.6 482.0 L656.8 490.4 L654.9 498.9 L652.1 506.4 L649.3 511.1 L644.6 511.6 L641.8 507.3 L641.2 500.8 L643.7 494.2 L643.7 485.7 L647.4 481.0 L652.1 478.2 L655.9 472.6Z M787.3 411.1 L791.3 412.2 L795.3 413.9 L799.2 418.4 L803.7 422.9 L808.2 427.5 L812.2 432.0 L816.2 436.5 L817.9 441.0 L817.3 446.7 L813.3 446.7 L809.9 442.7 L806.6 438.8 L803.2 433.1 L799.2 426.3 L794.7 419.5 L790.2 415.0Z M826.3 422.9 L829.7 422.4 L834.2 419.5 L839.9 415.0 L844.4 412.8 L846.7 407.7 L849.5 407.7 L850.6 411.6 L854.6 412.2 L851.8 415.0 L852.3 419.5 L852.3 424.6 L850.1 428.6 L847.8 433.1 L846.7 437.6 L843.8 441.0 L838.8 438.2 L834.8 439.3 L830.8 436.5 L828.6 430.8 L826.9 426.3Z M856.8 426.3 L861.4 424.6 L867.0 425.2 L871.0 424.1 L870.4 426.3 L865.9 427.5 L860.8 428.0 L859.1 430.8 L863.1 433.1 L866.4 431.4 L864.7 434.2 L861.9 435.9 L864.2 439.9 L865.3 444.4 L863.6 446.1 L860.8 441.6 L858.5 437.6 L858.0 443.3 L857.4 446.7 L855.1 446.1 L854.6 439.9 L854.0 435.9 L855.7 430.8Z M816.7 448.4 L820.7 447.8 L825.2 449.5 L830.8 450.1 L835.4 452.3 L839.9 454.0 L844.4 455.1 L848.9 455.5 L853.4 456.3 L852.9 457.7 L847.8 457.4 L842.7 456.8 L836.5 455.7 L830.8 454.0 L825.2 452.3 L819.5 451.2Z M855.7 456.4 L859.7 456.2 L864.2 456.8 L864.2 458.0 L859.7 457.7 L855.9 457.5Z M867.0 459.3 L871.5 457.3 L876.0 456.2 L876.3 457.3 L872.1 458.6 L867.9 460.2Z M854.6 380.0 L859.1 380.0 L860.8 383.4 L859.7 387.9 L858.0 390.2 L856.8 386.8 L855.7 383.4Z M862.5 387.0 L865.0 386.6 L865.9 390.7 L863.8 391.3Z M867.2 389.6 L870.2 389.0 L871.1 394.1 L868.7 394.7Z M863.3 393.8 L865.9 393.3 L866.6 398.1 L864.2 398.8Z M867.6 402.0 L871.5 400.3 L874.4 402.6 L874.4 407.1 L872.1 410.5 L869.3 409.4 L867.6 406.0Z M861.9 405.4 L867.0 403.2 L867.6 404.3 L862.5 406.6Z M848.4 402.0 L854.6 394.7 L855.5 395.6 L849.2 402.6Z M878.5 420.9 L880.3 420.7 L880.6 425.2 L879.9 429.7 L878.5 429.5 L879.0 425.0Z M873.8 438.8 L876.6 438.5 L876.7 440.3 L874.0 440.6Z M879.4 438.3 L886.8 438.1 L886.9 439.7 L879.7 439.9Z M888.5 430.3 L894.7 430.3 L896.7 434.4 L892.6 435.9 L889.1 433.8Z M898.8 438.6 L904.0 434.4 L910.2 434.4 L918.4 437.5 L925.7 441.7 L931.9 446.8 L933.9 452.0 L937.0 458.2 L940.7 461.3 L935.0 461.3 L929.8 456.1 L924.6 453.0 L921.5 457.1 L915.3 458.2 L910.2 454.0 L907.1 448.9 L901.9 444.8 L895.7 440.6 L893.6 437.5Z M936.0 446.2 L942.2 445.4 L946.3 442.7 L947.4 444.1 L943.2 447.9 L937.0 448.3Z M954.0 447.0 L955.2 446.4 L960.6 452.0 L959.5 452.6Z M964.3 455.3 L965.3 454.7 L973.0 462.3 L971.9 463.1Z M1013.0 485.5 L1016.0 483.0 L1020.5 481.5 L1020.0 484.0 L1016.0 487.0Z M984.5 477.0 L986.0 476.5 L988.0 482.0 L986.5 483.0Z M835.8 504.7 L839.9 499.5 L848.2 495.4 L856.4 492.3 L861.6 486.1 L864.7 481.9 L868.8 480.9 L873.0 474.7 L877.1 476.8 L881.2 477.8 L885.4 471.6 L890.5 467.5 L897.8 467.5 L901.9 469.5 L899.4 474.7 L898.8 478.8 L904.0 481.9 L909.1 485.0 L912.2 486.1 L914.7 478.8 L916.4 471.6 L918.4 464.4 L921.5 470.6 L924.6 478.8 L927.1 487.1 L930.8 494.3 L935.0 501.6 L939.1 507.8 L942.8 511.9 L942.4 518.2 L941.1 526.6 L938.3 534.1 L933.6 540.7 L928.9 547.3 L927.0 553.8 L922.3 554.8 L917.7 557.2 L913.0 554.8 L910.1 557.6 L905.4 556.7 L900.8 552.9 L899.8 546.3 L896.1 543.5 L897.0 537.9 L894.2 539.8 L890.4 543.5 L887.6 539.2 L883.8 535.1 L878.2 533.2 L870.7 534.1 L863.2 536.0 L857.6 540.3 L848.2 541.1 L843.5 544.5 L838.8 544.5 L834.6 539.8 L836.5 535.1 L836.9 527.6 L836.0 521.0 L833.1 514.4Z M910.1 565.5 L915.8 564.7 L920.5 565.1 L919.2 569.8 L915.8 573.6 L912.4 574.5 L910.7 570.4Z M991.8 542.6 L994.6 545.4 L995.6 550.1 L998.4 554.8 L1004.0 553.8 L1001.2 558.5 L997.5 562.3 L993.7 567.0 L990.9 567.4 L991.8 562.3 L990.5 559.5 L993.7 555.7 L993.1 550.1Z M985.3 564.2 L989.0 566.1 L986.2 570.8 L981.5 575.4 L976.8 580.1 L971.2 584.8 L966.5 586.7 L963.1 583.5 L966.5 579.8 L973.1 576.4 L978.7 572.6 L983.0 567.9Z M975.5 494.1 L976.6 493.8 L981.9 499.8 L980.8 500.5Z"/>
<path d="M176.3 174 L163.6 215.3 L166.5 216.5 L172 219.5 L176.5 226 L183 235" fill="none" stroke="#c684d6" stroke-width="0.6" opacity="0.5"/>
</svg>
<div class="footer"></div>
<svg width="1065" height="708" viewBox="0 0 1065 708">
 <defs><filter id="sh" x="-20%" y="-20%" width="140%" height="140%"><feGaussianBlur stdDeviation="0.9"/></filter></defs>
 <g fill="none" stroke="#0a0a0a">
  <line x1="148" y1="308.3" x2="268" y2="307.2" stroke-width="1.7" stroke-dasharray="6.4 2.1"/>
  <line x1="540" y1="117.5" x2="542" y2="247" stroke-width="2.4" stroke-dasharray="5.6 2.4"/>
  <line x1="945.5" y1="339.8" x2="824" y2="342.7" stroke-width="2" stroke-dasharray="5.8 2.3"/>
  <line x1="703" y1="443.5" x2="600" y2="443.5" stroke-width="2" stroke-dasharray="5.6 2.4"/>
  <line x1="246" y1="516" x2="338" y2="516" stroke-width="2" stroke-dasharray="5.6 2.4"/>
 </g>
 <g fill="#a9b7cb" stroke="#6fa3d8" stroke-width="1.2">
  <circle cx="275.5" cy="306.2" r="6.8"/>
  <circle cx="542" cy="253" r="5.8"/>
  <circle cx="818.3" cy="342.7" r="5.6"/>
  <circle cx="594" cy="443" r="5.8"/>
  <circle cx="345.6" cy="516.5" r="6.8"/>
 </g>
 <g fill="none" stroke="#4d1d70" stroke-opacity="0.5" stroke-linecap="round" stroke-width="8" transform="translate(-2.5,4)" filter="url(#sh)">
  <path d="M794.6 662 A11.8 10.6 0 0 1 818 665 L818 674.5 A11 11 0 0 0 829 685.5 Q832.5 685.8 835.3 684.6"/>
  <line x1="806.3" y1="665" x2="806.3" y2="674.5"/><line x1="830.8" y1="657" x2="830.8" y2="674.5"/><line x1="843" y1="653.5" x2="843" y2="674.5"/>
 </g>
 <g fill="none" stroke="#fff" stroke-linecap="round" stroke-width="8">
  <path d="M794.6 662 A11.8 10.6 0 0 1 818 665 L818 674.5 A11 11 0 0 0 829 685.5 Q832.5 685.8 835.3 684.6"/>
  <line x1="806.3" y1="665" x2="806.3" y2="674.5"/><line x1="830.8" y1="657" x2="830.8" y2="674.5"/><line x1="843" y1="653.5" x2="843" y2="674.5"/>
 </g>
 <circle cx="794" cy="673.5" r="3.9" fill="#fff"/>
</svg>
<div class="t" style="left:36.90px;top:14.50px;font-size:43px;font-weight:bold;color:#000;transform:scaleX(0.9065);-webkit-text-stroke:1.00px #000;">Global</div>
<div class="t" style="left:158.99px;top:14.50px;font-size:43px;font-weight:bold;color:#000;transform:scaleX(1.2061);-webkit-text-stroke:0.25px #000;">Network</div>
<div class="t" style="left:372.34px;top:14.50px;font-size:43px;font-weight:bold;color:#000;transform:scaleX(1.0978);-webkit-text-stroke:0.38px #000;">Automation</div>
<div class="t" style="left:641.26px;top:14.50px;font-size:43px;font-weight:bold;color:#000;transform:scaleX(1.1089);-webkit-text-stroke:0.31px #000;">Market</div>
<div class="t" style="left:35.37px;top:63.94px;font-size:27px;font-weight:normal;color:#111;transform:scaleX(1.0201);">Regional</div>
<div class="t" style="left:152.98px;top:63.94px;font-size:27px;font-weight:normal;color:#111;transform:scaleX(0.9994);">Analysis</div>
<div class="t" style="left:259.93px;top:63.94px;font-size:27px;font-weight:normal;color:#111;transform:scaleX(1.0571);">in</div>
<div class="t" style="left:289.48px;top:63.94px;font-size:27px;font-weight:normal;color:#111;transform:scaleX(1.0065);">2024</div>
<div class="t" style="left:498.51px;top:80.86px;font-size:24.5px;font-weight:bold;color:#9a24ae;transform:scaleX(1.0801);-webkit-text-stroke:0.27px #9a24ae;">Europe</div>
<div class="t" style="left:17.31px;top:325.76px;font-size:24.5px;font-weight:bold;color:#9a24ae;transform:scaleX(1.1419);-webkit-text-stroke:0.25px #9a24ae;">North</div>
<div class="t" style="left:96.35px;top:325.76px;font-size:24.5px;font-weight:bold;color:#9a24ae;transform:scaleX(1.1058);-webkit-text-stroke:0.25px #9a24ae;">America</div>
<div class="t" style="left:20.98px;top:355.86px;font-size:24.5px;font-weight:bold;color:#9a24ae;transform:scaleX(1.0139);-webkit-text-stroke:0.49px #9a24ae;">US$</div>
<div class="t" style="left:75.69px;top:355.86px;font-size:24.5px;font-weight:bold;color:#9a24ae;transform:scaleX(1.1436);-webkit-text-stroke:0.25px #9a24ae;">2.44</div>
<div class="t" style="left:136.09px;top:355.86px;font-size:24.5px;font-weight:bold;color:#9a24ae;transform:scaleX(1.1535);-webkit-text-stroke:0.25px #9a24ae;">bn</div>
<div class="t" style="left:38.47px;top:504.86px;font-size:24.5px;font-weight:bold;color:#9a24ae;transform:scaleX(1.1004);-webkit-text-stroke:0.25px #9a24ae;">Latin</div>
<div class="t" style="left:107.75px;top:504.86px;font-size:24.5px;font-weight:bold;color:#9a24ae;transform:scaleX(1.1120);-webkit-text-stroke:0.25px #9a24ae;">America</div>
<div class="t" style="left:724.59px;top:430.06px;font-size:24.5px;font-weight:bold;color:#9a24ae;transform:scaleX(1.0325);-webkit-text-stroke:0.43px #9a24ae;">MEA</div>
<div class="t" style="left:971.19px;top:315.86px;font-size:24.5px;font-weight:bold;color:#9a24ae;transform:scaleX(1.0558);-webkit-text-stroke:0.35px #9a24ae;">APAC</div>
<div class="t" style="left:49.61px;top:640.66px;font-size:24.5px;font-weight:bold;color:#fff;transform:scaleX(1.1387);-webkit-text-stroke:0.25px #fff;">North</div>
<div class="t" style="left:127.75px;top:640.66px;font-size:24.5px;font-weight:bold;color:#fff;transform:scaleX(1.1120);-webkit-text-stroke:0.25px #fff;">America</div>
<div class="t" style="left:242.11px;top:640.66px;font-size:24.5px;font-weight:bold;color:#fff;transform:scaleX(1.0446);-webkit-text-stroke:0.39px #fff;">is</div>
<div class="t" style="left:268.76px;top:640.66px;font-size:24.5px;font-weight:bold;color:#fff;transform:scaleX(1.1120);-webkit-text-stroke:0.25px #fff;">Expected</div>
<div class="t" style="left:393.83px;top:640.66px;font-size:24.5px;font-weight:bold;color:#fff;transform:scaleX(1.3043);-webkit-text-stroke:0.25px #fff;">to</div>
<div class="t" style="left:426.97px;top:640.66px;font-size:24.5px;font-weight:bold;color:#fff;transform:scaleX(1.0453);-webkit-text-stroke:0.39px #fff;">Hold</div>
<div class="t" style="left:488.18px;top:640.66px;font-size:24.5px;font-weight:bold;color:#fff;transform:scaleX(1.1742);-webkit-text-stroke:0.25px #fff;">the</div>
<div class="t" style="left:535.10px;top:640.66px;font-size:24.5px;font-weight:bold;color:#fff;transform:scaleX(1.0821);-webkit-text-stroke:0.27px #fff;">Largest</div>
<div class="t" style="left:636.02px;top:640.66px;font-size:24.5px;font-weight:bold;color:#fff;transform:scaleX(1.1184);-webkit-text-stroke:0.25px #fff;">Global</div>
<div class="t" style="left:49.64px;top:670.76px;font-size:24.5px;font-weight:bold;color:#fff;transform:scaleX(1.1193);-webkit-text-stroke:0.25px #fff;">Network</div>
<div class="t" style="left:163.53px;top:670.76px;font-size:24.5px;font-weight:bold;color:#fff;transform:scaleX(1.1296);-webkit-text-stroke:0.25px #fff;">Automation</div>
<div class="t" style="left:322.06px;top:670.76px;font-size:24.5px;font-weight:bold;color:#fff;transform:scaleX(1.1713);-webkit-text-stroke:0.25px #fff;">Market</div>
<div class="t" style="left:419.68px;top:670.76px;font-size:24.5px;font-weight:bold;color:#fff;transform:scaleX(1.1137);-webkit-text-stroke:0.25px #fff;">Share</div>
<div class="t" style="left:858.79px;top:646.36px;font-size:31px;font-weight:bold;color:#fff;transform:scaleX(1.1926);-webkit-text-stroke:0.25px #fff;text-shadow:-1.5px 2.5px 2px rgba(70,25,105,0.45);letter-spacing:-0.3px;">market.us</div>
<div class="t" style="left:860.76px;top:677.97px;font-size:7px;font-weight:bold;color:#fff;transform:scaleX(1.0742);text-shadow:-0.5px 1px 1px rgba(70,25,105,0.4);letter-spacing:1.1px;">ONE STOP SHOP FOR THE REPORTS</div>
<div class="frame"></div>
</body></html>
